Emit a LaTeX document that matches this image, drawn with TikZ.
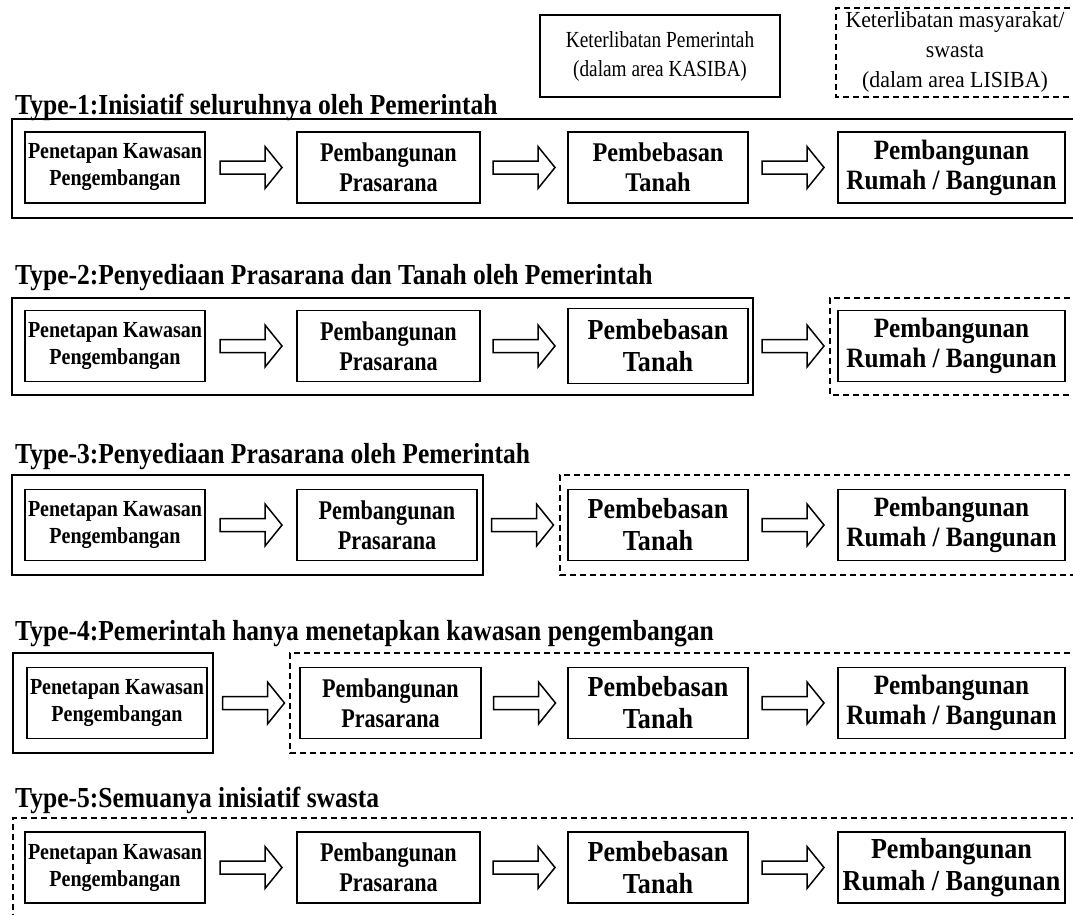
\documentclass[tikz,border=0pt]{standalone}
\usepackage{fontspec}
\setmainfont{Liberation Serif}
\newfontfamily\condtitle[FakeStretch=0.88]{Liberation Serif}
\newfontfamily\condbox[FakeStretch=0.82]{Liberation Serif}
\newfontfamily\condC[FakeStretch=0.9]{Liberation Serif}
\newfontfamily\condD[FakeStretch=0.9]{Liberation Serif}
\newfontfamily\condpk[FakeStretch=0.87]{Liberation Serif}
\newfontfamily\condlegA[FakeStretch=0.84]{Liberation Serif}
\newfontfamily\condlegB[FakeStretch=0.95]{Liberation Serif}
\usetikzlibrary{calc}
\newcommand\titlefont{\condtitle\bfseries\fontsize{29}{32}\selectfont}
\newcommand\boxfont{\condbox\bfseries\fontsize{27}{30}\selectfont}
\newcommand\cfont{\condC\bfseries\fontsize{27}{30}\selectfont}
\newcommand\bigcfont{\condC\bfseries\fontsize{29}{32}\selectfont}
\newcommand\dfont{\condD\bfseries\fontsize{28}{30}\selectfont}
\newcommand\bigdfont{\condD\bfseries\fontsize{29}{32}\selectfont}
\newcommand\smallboxfont{\condpk\bfseries\fontsize{23}{27}\selectfont}
\tikzset{
  inbox/.style={draw, line width=1.8pt, minimum height=71pt, inner sep=0pt, align=center, font=\boxfont},
  pkbox/.style={inbox, minimum width=180pt, font=\smallboxfont},
  cbox/.style={inbox, minimum width=180pt, font=\bigcfont},
  dbox/.style={inbox, minimum width=227pt, font=\dfont},
  solidframe/.style={draw, line width=1.5pt},
  dashframe/.style={draw, line width=1.8pt, dash pattern=on 6pt off 4pt},
  blockarrow/.style={draw, line width=1.5pt, fill=white, line join=miter},
  titletext/.style={anchor=base west, inner sep=0pt, font=\titlefont},
}
\newcommand\blockarr[2]{%
  \draw[blockarrow] ($(#1.east)!0.5!(#2.west)$) ++(-31pt,6.5pt) -- ++(45pt,0pt) -- ++(0pt,14.5pt)
    -- ++(17pt,-21pt) -- ++(-17pt,-21pt) -- ++(0pt,14.5pt) -- ++(-45pt,0pt) -- cycle;}
\begin{document}
\begin{tikzpicture}[x=1pt,y=-1pt]
\useasboundingbox (0,0) rectangle (1073,914);
\fill[white] (0,0) rectangle (1073,914);

% legend
\node[draw, line width=1.5pt, minimum width=240pt, minimum height=82pt, inner sep=0pt,
      align=center, font=\condlegA\fontsize{23}{29}\selectfont] (legA) at (660,56) {Keterlibatan Pemerintah\\(dalam area KASIBA)};
\draw[dashframe] (1080,8) -- (836,8) -- (836,97) -- (1080,97);
\node[align=center, inner sep=0pt, font=\condlegB\fontsize{23}{30}\selectfont] (legB) at (955,52)
  {Keterlibatan masyarakat/\\swasta\\(dalam area LISIBA)};

% Type 1
\node[titletext] (t1) at (15,114) {Type-1:Inisiatif seluruhnya oleh Pemerintah};
\draw[solidframe] (12,119) rectangle (1080,218);
\node[pkbox] (a1) at (115,167.5) {Penetapan Kawasan\\Pengembangan};
\node[inbox, minimum width=183pt] (b1) at (388.5,167.5) {Pembangunan\\Prasarana};
\node[cbox, font=\cfont] (c1) at (658,167.5) {Pembebasan\\Tanah};
\node[dbox] (d1) at (951.5,167.5) {Pembangunan\\Rumah / Bangunan};
\blockarr{a1}{b1}\blockarr{b1}{c1}\blockarr{c1}{d1}

% Type 2
\node[titletext] (t2) at (15,284) {Type-2:Penyediaan Prasarana dan Tanah oleh Pemerintah};
\draw[solidframe] (12,298) rectangle (753,395);
\draw[dashframe] (1080,298) -- (830,298) -- (830,395) -- (1080,395);
\node[pkbox] (a2) at (115,346) {Penetapan Kawasan\\Pengembangan};
\node[inbox, minimum width=183pt] (b2) at (388.5,346) {Pembangunan\\Prasarana};
\node[cbox, minimum height=75pt] (c2) at (658,346) {Pembebasan\\Tanah};
\node[dbox] (d2) at (951.5,346) {Pembangunan\\Rumah / Bangunan};
\blockarr{a2}{b2}\blockarr{b2}{c2}\blockarr{c2}{d2}

% Type 3
\node[titletext] (t3) at (15,463) {Type-3:Penyediaan Prasarana oleh Pemerintah};
\draw[solidframe] (12,475) rectangle (483,575);
\draw[dashframe] (1080,475) -- (560,475) -- (560,575) -- (1080,575);
\node[pkbox] (a3) at (115,525) {Penetapan Kawasan\\Pengembangan};
\node[inbox, minimum width=180pt] (b3) at (387,525) {Pembangunan\\Prasarana};
\node[cbox] (c3) at (658,525) {Pembebasan\\Tanah};
\node[dbox] (d3) at (951.5,525) {Pembangunan\\Rumah / Bangunan};
\blockarr{a3}{b3}\blockarr{b3}{c3}\blockarr{c3}{d3}

% Type 4
\node[titletext] (t4) at (15,640) {Type-4:Pemerintah hanya menetapkan kawasan pengembangan};
\draw[solidframe] (13,653) rectangle (213,753);
\draw[dashframe] (1080,653) -- (290,653) -- (290,753) -- (1080,753);
\node[pkbox] (a4) at (117,703) {Penetapan Kawasan\\Pengembangan};
\node[inbox, minimum width=181pt] (b4) at (390.5,703) {Pembangunan\\Prasarana};
\node[cbox] (c4) at (658,703) {Pembebasan\\Tanah};
\node[dbox] (d4) at (951.5,703) {Pembangunan\\Rumah / Bangunan};
\blockarr{a4}{b4}\blockarr{b4}{c4}\blockarr{c4}{d4}

% Type 5
\node[titletext] (t5) at (15,807) {Type-5:Semuanya inisiatif swasta};
\draw[dashframe] (13,930) -- (13,818) -- (1080,818);
\node[pkbox] (a5) at (115,867.5) {Penetapan Kawasan\\Pengembangan};
\node[inbox, minimum width=183pt] (b5) at (388.5,867.5) {Pembangunan\\Prasarana};
\node[cbox] (c5) at (658,867.5) {Pembebasan\\Tanah};
\node[dbox, font=\bigdfont] (d5) at (951.5,867.5) {Pembangunan\\Rumah / Bangunan};
\blockarr{a5}{b5}\blockarr{b5}{c5}\blockarr{c5}{d5}
\end{tikzpicture}
\end{document}
